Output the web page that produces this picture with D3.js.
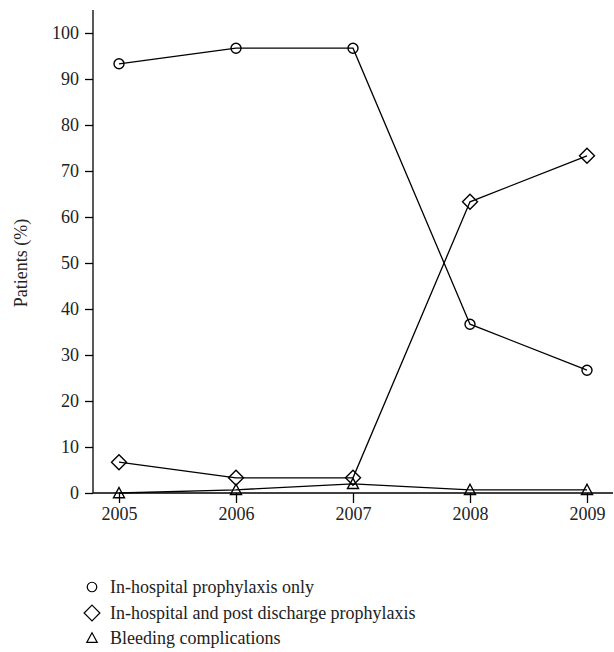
<!DOCTYPE html>
<html>
<head>
<meta charset="utf-8">
<script src="https://cdn.jsdelivr.net/npm/d3@7"></script>
<style>
  body { margin: 0; background: #fff; }
  svg text { font-family: "Liberation Serif", "DejaVu Serif", serif; fill: #222; }
</style>
</head>
<body>
<div id="chart"></div>
<script>
// data
const years = [2005, 2006, 2007, 2008, 2009];
const inHospitalOnly = [93.3, 96.7, 96.7, 36.7, 26.7];
const inHospitalAndPost = [6.7, 3.3, 3.3, 63.3, 73.3];
const bleeding = [0, 0.7, 2.0, 0.7, 0.7];
const yTicks = [0, 10, 20, 30, 40, 50, 60, 70, 80, 90, 100];
const seriesNames = ["In-hospital prophylaxis only", "In-hospital and post discharge prophylaxis", "Bleeding complications"];

const w = 614, h = 652;
const svg = d3.select("#chart").append("svg")
  .attr("width", w)
  .attr("height", h);

const xScale = d3.scaleLinear().domain([2005, 2009]).range([119, 587]);
const yScale = d3.scaleLinear().domain([0, 105]).range([493, 10]);

// y axis
const yAxis = d3.axisLeft(yScale).tickValues(yTicks).tickSize(8).tickPadding(6);
const gy = svg.append("g").attr("transform", "translate(93,0)").call(yAxis);
gy.select(".domain").attr("d", `M0,${yScale(105)}V${yScale(0)}`).attr("stroke", "#000").attr("stroke-width", 1.3);
gy.selectAll(".tick line").attr("stroke", "#000").attr("stroke-width", 1.3);
gy.selectAll(".tick text").style("font-size", "18px").style("font-family", "Liberation Serif").attr("fill", "#222");

// x axis
const xAxis = d3.axisBottom(xScale).tickValues(years).tickFormat(d3.format("d")).tickSize(10).tickPadding(4);
const gx = svg.append("g").attr("transform", `translate(0,${yScale(0)})`).call(xAxis);
gx.select(".domain").attr("d", "M93,0H613").attr("stroke", "#000").attr("stroke-width", 1.3);
gx.selectAll(".tick line").attr("stroke", "#000").attr("stroke-width", 1.3);
gx.selectAll(".tick text").style("font-size", "18px").style("font-family", "Liberation Serif").attr("fill", "#222");

// y label
svg.append("text")
  .attr("transform", `translate(27,${yScale(50)}) rotate(-90)`)
  .attr("text-anchor", "middle")
  .style("font-size", "18px")
  .text("Patients (%)");

const line = d3.line()
  .x((d, i) => xScale(years[i]))
  .y(d => yScale(d));

const seriesList = [
  { values: inHospitalOnly, shape: "circle" },
  { values: inHospitalAndPost, shape: "diamond" },
  { values: bleeding, shape: "triangle" }
];

function marker(g, shape, size) {
  if (shape === "circle") {
    g.append("circle").attr("r", 5 * size);
  } else if (shape === "diamond") {
    const s = 7.5 * size;
    g.append("path").attr("d", `M0,${-s}L${s},0L0,${s}L${-s},0Z`);
  } else {
    const s = 5.5 * size;
    g.append("path").attr("d", `M0,${-s}L${s},${s * 0.85}L${-s},${s * 0.85}Z`);
  }
  g.selectAll("circle,path").attr("fill", "none").attr("stroke", "#000").attr("stroke-width", 1.4);
}

seriesList.forEach(s => {
  svg.append("path")
    .datum(s.values)
    .attr("d", line)
    .attr("fill", "none")
    .attr("stroke", "#000")
    .attr("stroke-width", 1.3);
  s.values.forEach((v, i) => {
    const g = svg.append("g").attr("transform", `translate(${xScale(years[i])},${yScale(v)})`);
    marker(g, s.shape, 1);
  });
});

// legend
const legendRows = [587, 613, 638];
seriesList.forEach((s, i) => {
  const g = svg.append("g").attr("transform", `translate(92,${legendRows[i]})`);
  marker(g, s.shape, i === 1 ? 1.05 : 0.95);
  g.selectAll("circle,path").attr("stroke-width", 1.2);
  svg.append("text")
    .attr("x", 110)
    .attr("y", legendRows[i] + 6)
    .style("font-size", "18px")
    .text(seriesNames[i]);
});
</script>
</body>
</html>
